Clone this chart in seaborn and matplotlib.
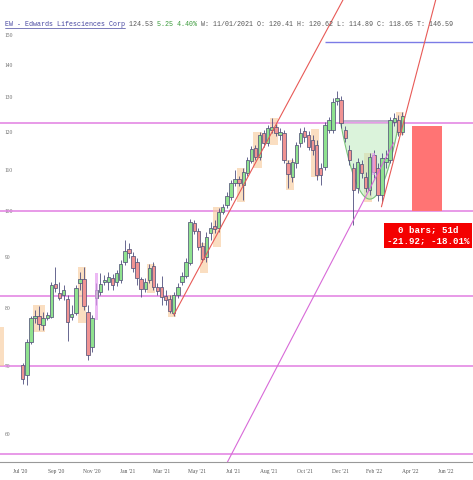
import matplotlib
matplotlib.use('Agg')
from matplotlib import pyplot as plt
import matplotlib.dates as mdates
from matplotlib.patches import Rectangle
from matplotlib.ticker import NullLocator
import seaborn as sns
import numpy as np
import pandas as pd

# weekly OHLC, EW
opens = [70.2, 68.6, 74.0, 78.2, 78.6, 77.0, 78.2, 78.4, 84.6, 82.9,
         82.5, 81.7, 78.4, 79.1, 84.8, 85.5, 79.3, 73.2, 81.9, 83.0,
         84.9, 84.9, 85.7, 84.9, 85.3, 88.9, 91.6, 90.2, 88.9, 85.5,
         83.6, 85.3, 88.1, 84.0, 84.0, 82.3, 81.7, 79.1, 82.4, 84.9,
         86.1, 88.7, 97.3, 95.5, 92.3, 90.0, 95.1, 96.6, 96.2, 99.8,
         101.4, 103.3, 106.6, 107.6, 106.2, 109.1, 112.2, 115.6, 113.2, 119.6,
         116.9, 120.5, 121.3, 119.1, 119.6, 111.7, 108.1, 111.7, 116.9, 120.2,
         119.1, 117.7, 116.4, 110.4, 110.6, 120.5, 120.5, 128.8, 129.1, 120.5,
         115.0, 110.4, 105.4, 111.4, 108.1, 104.9, 113.7, 110.4, 103.7, 111.9,
         112.4, 122.7, 123.3, 119.9]
highs = [70.5, 74.5, 78.6, 79.6, 80.4, 79.3, 79.3, 84.9, 87.9, 84.9,
         84.4, 82.4, 80.6, 84.4, 86.9, 87.9, 80.6, 78.7, 84.7, 86.7,
         86.3, 86.9, 86.5, 87.3, 89.4, 93.5, 92.9, 91.0, 89.8, 85.9,
         85.7, 88.5, 88.9, 84.7, 86.1, 83.4, 82.4, 83.0, 84.7, 86.9,
         89.8, 98.2, 98.0, 96.2, 93.1, 95.3, 97.5, 98.0, 100.7, 101.6,
         104.5, 107.4, 109.9, 108.4, 110.4, 113.2, 116.1, 116.4, 119.9, 120.5,
         121.9, 123.8, 122.2, 121.0, 120.5, 112.4, 112.9, 117.2, 121.0, 121.3,
         120.2, 119.1, 117.7, 111.7, 122.7, 124.1, 129.6, 131.8, 130.3, 121.6,
         116.4, 111.7, 112.9, 112.4, 109.4, 114.3, 115.0, 111.7, 114.3, 115.0,
         124.1, 125.3, 124.7, 125.6]
lows = [67.2, 67.0, 73.7, 77.3, 76.1, 76.1, 77.8, 78.2, 83.0, 81.5,
        81.5, 74.2, 77.8, 78.7, 83.4, 79.6, 71.1, 72.3, 80.6, 82.4,
        84.4, 83.4, 83.4, 84.2, 84.7, 88.3, 89.8, 86.9, 84.4, 82.1,
        83.0, 84.7, 83.4, 82.4, 80.6, 80.6, 79.1, 78.6, 81.9, 84.4,
        85.7, 88.3, 94.9, 91.4, 88.9, 88.9, 93.6, 95.1, 95.3, 99.3,
        100.7, 102.6, 105.9, 105.9, 102.6, 108.4, 111.7, 112.4, 112.4, 115.8,
        116.1, 119.6, 118.8, 117.7, 111.7, 105.4, 106.9, 110.4, 115.8, 117.2,
        115.0, 113.7, 107.4, 106.2, 109.9, 119.6, 119.6, 127.6, 121.0, 117.2,
        111.1, 96.8, 104.2, 107.9, 104.5, 103.7, 107.9, 102.3, 101.9, 110.4,
        111.7, 121.6, 118.8, 119.1]
closes = [68.0, 74.0, 78.2, 78.4, 77.1, 78.2, 78.7, 84.4, 83.8, 82.0,
          83.4, 77.5, 78.9, 83.8, 85.5, 80.4, 71.8, 78.2, 83.4, 84.6,
          85.3, 85.9, 84.4, 86.7, 88.5, 91.2, 90.8, 87.7, 85.7, 83.6,
          84.9, 87.7, 84.0, 83.2, 82.1, 81.5, 79.5, 82.4, 84.0, 86.1,
          88.9, 97.5, 95.5, 92.1, 89.5, 94.2, 96.2, 95.9, 99.8, 100.9,
          103.5, 106.6, 107.6, 106.6, 109.4, 112.4, 115.3, 113.2, 119.1, 116.9,
          121.0, 121.3, 119.6, 119.9, 112.4, 108.9, 111.9, 116.4, 119.6, 118.5,
          115.8, 115.0, 108.6, 108.6, 121.9, 123.3, 128.5, 129.6, 122.4, 118.3,
          112.4, 104.9, 111.9, 109.1, 105.4, 113.2, 109.4, 103.7, 112.9, 112.9,
          123.3, 123.8, 119.9, 124.53]
first_week = '2020-07-06'

# horizontal levels
levels = [122.5, 100.0, 82.3, 70.0, 57.3]
blue_level = 147.5
blue_from = '2021-12-06'

# highlight boxes: first candle, last candle, low, high
hl_first = [-5, 3, 14, 31, 36, 44, 47, 53, 57, 61, 65, 71, 84, 92]
hl_last = [-5, 5, 15, 32, 37, 45, 48, 54, 58, 62, 66, 72, 85, 93]
hl_low = [70.0, 75.7, 77.3, 82.8, 78.4, 86.7, 92.1, 102.1, 110.4, 116.4, 105.0, 108.1, 102.1, 119.1]
hl_high = [76.6, 80.6, 87.9, 88.5, 82.4, 92.9, 101.0, 110.4, 119.9, 123.8, 112.4, 120.7, 114.2, 125.6]
purple_idx = [18, 86]
purple_low = [77.8, 108.6]
purple_high = [86.7, 114.2]

# trend lines (date, price)
red1 = (['2021-03-22', '2022-01-06'], [78.8, 162.4])
red2 = (['2022-03-13', '2022-06-14'], [101.0, 162.4])
violet = (['2021-06-22', '2022-04-03'], [56.2, 117.0])

# cup
cup_start, cup_end = '2022-01-02', '2022-04-12'
cup_top, cup_bottom = 122.5, 102.8

# measurement box
meas_start, meas_end = '2022-05-04', '2022-06-25'
meas_low, meas_high = 100.0, 121.7
meas_text = '0 bars; 51d\n-21.92; -18.01%'

tick_dates = ['2020-07-01', '2020-09-01', '2020-11-01', '2021-01-01', '2021-03-01',
              '2021-05-01', '2021-07-01', '2021-09-01', '2021-11-01', '2022-01-01',
              '2022-03-01', '2022-05-01', '2022-07-01']
tick_labels = ["Jul '20", "Sep '20", "Nov '20", "Jan '21", "Mar '21", "May '21",
               "Jul '21", "Aug '21", "Oct '21", "Dec '21", "Feb '22", "Apr '22", "Jun '22"]
ytick_vals = [60, 70, 80, 90, 100, 110, 120, 130, 140, 150]


def main():
    sns.set_style('white')
    plt.rcParams['font.family'] = ['Liberation Serif', 'DejaVu Serif']
    df = pd.DataFrame({'open': opens, 'high': highs, 'low': lows, 'close': closes})
    df['date'] = pd.date_range(first_week, periods=len(df), freq='7D')
    wk = pd.Timedelta(days=7)
    d0 = df['date'].iloc[0]

    fig = plt.figure(figsize=(4.73, 4.80), dpi=100)
    ax = fig.add_axes([0, 18 / 480, 1, 462 / 480])
    ax.set_yscale('log')

    up = df['close'] >= df['open']
    body_lo = df[['open', 'close']].min(axis=1)
    body_h = (df['close'] - df['open']).abs().clip(lower=0.4)
    ax.vlines(df['date'], df['low'], df['high'], color='#4f4f7f', lw=0.6, zorder=3)
    ax.bar(df['date'], body_h, bottom=body_lo, width=5.8,
           color=np.where(up, '#8fe28f', '#f09393'), edgecolor='#55557a', lw=0.55, zorder=4)

    # highlight boxes
    for f, l, lo, hi in zip(hl_first, hl_last, hl_low, hl_high):
        x0 = mdates.date2num(d0 + f * wk - pd.Timedelta(days=3.4))
        x1 = mdates.date2num(d0 + l * wk + pd.Timedelta(days=3.4))
        ax.add_patch(Rectangle((x0, lo), x1 - x0, hi - lo, facecolor='#f8c898',
                               alpha=0.6, edgecolor='none', zorder=2))
    for i, lo, hi in zip(purple_idx, purple_low, purple_high):
        x0 = mdates.date2num(d0 + i * wk - pd.Timedelta(days=2.8))
        ax.add_patch(Rectangle((x0, lo), 5.6, hi - lo, facecolor='#e49cf0',
                               alpha=0.7, edgecolor='none', zorder=5))

    for lv in levels:
        ax.axhline(lv, color='#e27fe2', lw=1.1, zorder=1)
    ax.hlines(blue_level, mdates.date2num(pd.Timestamp(blue_from)), mdates.date2num(pd.Timestamp('2022-09-30')),
              color='#7b7be6', lw=1.0, zorder=2)

    # trend lines
    for (dd, pp), col in [(red1, '#e85a57'), (red2, '#e85a57'), (violet, '#d86ad8')]:
        tl = pd.DataFrame({'date': pd.to_datetime(dd), 'price': pp})
        sns.lineplot(data=tl, x='date', y='price', color=col, lw=0.8, ax=ax, zorder=6)

    # cup
    xa = mdates.date2num(pd.Timestamp(cup_start))
    xb = mdates.date2num(pd.Timestamp(cup_end))
    xs = np.linspace(xa, xb, 80)
    t = (xs - (xa + xb) / 2) / ((xb - xa) / 2)
    ys = np.exp(np.log(cup_top) - (np.log(cup_top) - np.log(cup_bottom)) * (1 - t ** 2))
    ax.fill_between(xs, ys, cup_top, color='#bfeabf', alpha=0.55, lw=0, zorder=2)
    ax.plot(xs, ys, color='#79c279', lw=0.8, zorder=2)
    ax.hlines(cup_top + 0.6, xa, xb, color='#b7a7c7', lw=1.2, zorder=2)

    # measurement
    ma = mdates.date2num(pd.Timestamp(meas_start))
    mb = mdates.date2num(pd.Timestamp(meas_end))
    ax.add_patch(Rectangle((ma, meas_low), mb - ma, meas_high - meas_low,
                           facecolor='#ff7474', edgecolor='none', zorder=3))
    ax.text(mdates.date2num(pd.Timestamp('2022-06-01')), 94.6, meas_text, ha='center', va='center',
            color='white', fontsize=6.6, fontweight='bold', family='Liberation Mono', linespacing=1.25,
            bbox=dict(boxstyle='square,pad=0.3', facecolor='#f40000', edgecolor='none'), zorder=8)

    ax.set_xlim(mdates.date2num(pd.Timestamp('2020-05-28')), mdates.date2num(pd.Timestamp('2022-08-17')))
    ax.set_ylim(56.2, 162.4)
    ax.set_xticks([mdates.date2num(pd.Timestamp(d)) for d in tick_dates])
    ax.set_xticklabels(tick_labels, fontsize=4.0, color='#555555')
    ax.set_yticks(ytick_vals)
    ax.yaxis.set_minor_locator(NullLocator())
    ax.set_yticklabels([str(v) for v in ytick_vals], fontsize=4.0, color='#6a6a6a', ha='left')
    ax.tick_params(axis='y', length=0, pad=-3.5)
    ax.tick_params(axis='x', length=0, pad=5)
    ax.set_xlabel('')
    ax.set_ylabel('')
    for s in ['top', 'left', 'right']:
        ax.spines[s].set_visible(False)
    ax.spines['bottom'].set_color('#999999')
    ax.spines['bottom'].set_linewidth(0.8)

    # header line
    cw = 4.0 / 473
    y = 1 - 24 / 480
    x0 = 5 / 473
    parts = [('EW - Edwards Lifesciences Corp', '#4646a0'), (' 124.53', '#555555'),
             (' 5.25 4.40%', '#3a9a3a'),
             (' W: 11/01/2021 O: 120.41 H: 120.62 L: 114.89 C: 118.65 T: 146.59', '#555555')]
    n = 0
    for txt, col in parts:
        fig.text(x0 + n * cw, y, txt, family='Liberation Mono', fontsize=4.8, color=col, va='center')
        n += len(txt)
    fig.add_artist(plt.Line2D([x0, x0 + 30 * cw], [y - 3.5 / 480] * 2, color='#4646a0', lw=0.5))

    fig.savefig('out.png', dpi=100)


if __name__ == '__main__':
    main()
